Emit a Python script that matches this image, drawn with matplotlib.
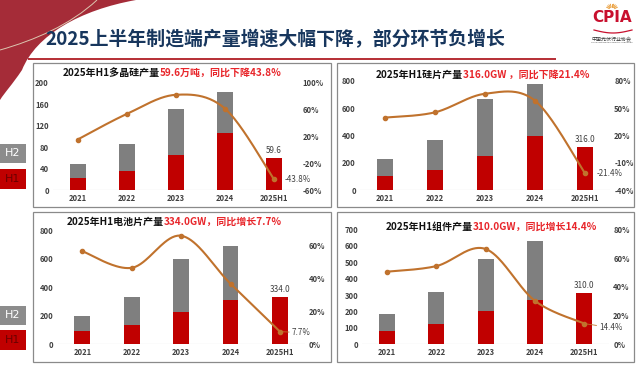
import numpy as np
import matplotlib
matplotlib.use("Agg")
import matplotlib.pyplot as plt
from matplotlib.path import Path
from matplotlib.patches import PathPatch, Rectangle

plt.rcParams['font.family'] = ['Noto Sans CJK SC', 'DejaVu Sans']

# ---------------- data ----------------
categories = ["2021", "2022", "2023", "2024", "2025H1"]

poly_h1 = [23.5, 36, 65.5, 106, 59.6]
poly_h2 = [26, 49.5, 86.5, 76, 0]
poly_yoy = [15.5, 53.5, 82, 61.5, -43.8]

wafer_h1 = [102, 151, 251, 400, 316.0]
wafer_h2 = [125, 217, 415, 376, 0]
wafer_yoy = [39.8, 45.6, 66, 58.4, -21.4]

cell_h1 = [91, 135, 226, 310, 334.0]
cell_h2 = [107, 196, 371, 380, 0]
cell_yoy = [56.6, 46.5, 66, 36.8, 7.7]

module_h1 = [79, 124, 203, 270, 310.0]
module_h2 = [106, 192, 316, 359, 0]
module_yoy = [50.5, 54.4, 66.3, 30.2, 14.4]

main_title = "2025上半年制造端产量增速大幅下降，部分环节负增长"
titles_black = ["2025年H1多晶硅产量", "2025年H1硅片产量", "2025年H1电池片产量", "2025年H1组件产量"]
titles_red = ["59.6万吨，同比下降43.8%", "316.0GW ，同比下降21.4%", "334.0GW，同比增长7.7%", "310.0GW，同比增长14.4%"]

# ---------------- style ----------------
W, H = 638, 377
RED = '#c00000'
GRAY = '#7f7f7f'
LINE = '#c0722d'
TXT = '#404040'

fig = plt.figure(figsize=(W / 100, H / 100), dpi=100)
fig.patch.set_facecolor('white')

bg = fig.add_axes([0, 0, 1, 1], zorder=0)
bg.set_xlim(0, W)
bg.set_ylim(H, 0)
bg.axis('off')


def rect(x0, y0, x1, y1):
    return [x0 / W, 1 - y1 / H, (x1 - x0) / W, (y1 - y0) / H]


# decorative red shape
verts = [(0, 0), (136, 0), (80, 10), (36, 35), (22, 70), (12, 85), (5, 92), (0, 100), (0, 0)]
codes = [Path.MOVETO, Path.LINETO, Path.CURVE4, Path.CURVE4, Path.CURVE4,
         Path.CURVE4, Path.CURVE4, Path.CURVE4, Path.CLOSEPOLY]
bg.add_patch(PathPatch(Path(verts, codes), facecolor='#a52c38', edgecolor='none'))
cv = [(97, 0), (70, 25), (35, 40), (0, 50)]
bg.add_patch(PathPatch(Path(cv, [Path.MOVETO, Path.CURVE4, Path.CURVE4, Path.CURVE4]),
                       facecolor='none', edgecolor='#dcc7b0', lw=0.7))

# main title + red rule
bg.text(45, 40, main_title, fontsize=13.6, fontweight='bold', color='#17365d',
        ha='left', va='center')
bg.plot([28, 556], [58.5, 58.5], color='#b01c24', lw=1.3, solid_capstyle='butt')

# CPIA logo
bg.text(612, 18, "CPIA", fontsize=11, fontweight='bold', color='#c8102e',
        ha='center', va='center', family='DejaVu Sans')
th = np.linspace(np.pi * 0.15, np.pi * 0.85, 9)
for t in th:
    bg.plot([612 + 3 * np.cos(t), 612 + 6 * np.cos(t)], [10 - 3 * np.sin(t), 10 - 6 * np.sin(t)],
            color='#e8962a', lw=0.6)
bg.plot(np.linspace(594, 632, 20), 30 + 3 * np.sin(np.linspace(0, np.pi, 20)), color='#c8102e', lw=0.9)
bg.text(612, 38.5, "中国光伏行业协会", fontsize=3.6, color='#333333', ha='center', va='center')
bg.text(612, 42.5, "China Photovoltaic Industry Association", fontsize=1.6, color='#555555',
        ha='center', va='center')

# H1/H2 legend boxes
for (y0, y1, lab, fc, tc) in [(144, 163, 'H2', '#8c8c8c', 'white'), (169, 189, 'H1', RED, '#6a0000'),
                               (306, 325, 'H2', '#8c8c8c', 'white'), (330, 350, 'H1', RED, '#6a0000')]:
    bg.add_patch(Rectangle((0, y0), 26, y1 - y0, facecolor=fc, edgecolor='none'))
    bg.text(13, (y0 + y1) / 2, lab, fontsize=8, color=tc, ha='center', va='center', family='DejaVu Sans')

# panel boxes
for (x0, y0, x1, y1) in [(33, 63, 331, 207), (337, 63, 634, 207), (33, 212, 331, 362), (337, 212, 634, 362)]:
    bg.add_patch(Rectangle((x0, y0), x1 - x0, y1 - y0, facecolor='none', edgecolor='#8a8a8a', lw=0.9))


def smooth(xs, ys, n=40):
    pts = np.column_stack([xs, ys]).astype(float)
    out = []
    m = len(pts)
    for i in range(m - 1):
        p0 = pts[i - 1] if i > 0 else pts[i]
        p1 = pts[i]
        p2 = pts[i + 1]
        p3 = pts[i + 2] if i + 2 < m else pts[i + 1]
        c1 = p1 + (p2 - p0) / 6
        c2 = p2 - (p3 - p1) / 6
        t = np.linspace(0, 1, n)[:, None]
        seg = (1 - t) ** 3 * p1 + 3 * (1 - t) ** 2 * t * c1 + 3 * (1 - t) * t ** 2 * c2 + t ** 3 * p2
        out.append(seg if i == 0 else seg[1:])
    out = np.vstack(out)
    return out[:, 0], out[:, 1]


panels = [
    dict(h1=poly_h1, h2=poly_h2, yoy=poly_yoy, box=(53.1, 82.7, 298.6, 190.3),
         ylim=(0, 200), yt=[0, 40, 80, 120, 160, 200], rlim=(-60, 100), rt=[-60, -20, 20, 60, 100],
         tx=160, ty=72.7, lab_off=(11, 0), leader=False),
    dict(h1=wafer_h1, h2=wafer_h2, yoy=wafer_yoy, box=(360, 81, 610, 190.3),
         ylim=(0, 800), yt=[0, 200, 400, 600, 800], rlim=(-40, 80), rt=[-40, -10, 20, 50, 80],
         tx=463, ty=75, lab_off=(12, 0), leader=False),
    dict(h1=cell_h1, h2=cell_h2, yoy=cell_yoy, box=(57.6, 230, 304.7, 344.3),
         ylim=(0, 800), yt=[0, 200, 400, 600, 800], rlim=(0, 69.5), rt=[0, 20, 40, 60],
         tx=164, ty=221.7, lab_off=(12, -1), leader=True),
    dict(h1=module_h1, h2=module_h2, yoy=module_yoy, box=(362.3, 229.3, 609, 344.3),
         ylim=(0, 700), yt=[0, 100, 200, 300, 400, 500, 600, 700], rlim=(0, 80), rt=[0, 20, 40, 60, 80],
         tx=473, ty=227, lab_off=(15, -4), leader=True),
]

x = np.arange(len(categories))
for k, p in enumerate(panels):
    ax = fig.add_axes(rect(*p['box']), zorder=2)
    ax.patch.set_alpha(0)
    ax.bar(x, p['h1'], width=0.32, color=RED, zorder=2)
    ax.bar(x, p['h2'], width=0.32, bottom=p['h1'], color=GRAY, zorder=2)
    ax.axhline(0, color='#bfbfbf', lw=0.8, zorder=1)
    ax.set_xlim(-0.5, len(categories) - 0.5)
    ax.set_ylim(*p['ylim'])
    ax.set_yticks(p['yt'])
    ax.set_xticks(x)
    ax.set_xticklabels(categories)
    for s in ax.spines.values():
        s.set_visible(False)
    ax.tick_params(length=0, pad=3, labelsize=5.5, labelcolor=TXT)
    for lbl in ax.get_xticklabels() + ax.get_yticklabels():
        lbl.set_fontweight('bold')
    total_last = p['h1'][-1] + p['h2'][-1]
    ax.annotate(f"{total_last:.1f}", xy=(x[-1], total_last), xytext=(0, 3), textcoords='offset pixels',
                ha='center', va='bottom', fontsize=5.8, color=TXT)

    ax2 = ax.twinx()
    ax2.patch.set_alpha(0)
    sx, sy = smooth(x, p['yoy'])
    ax2.plot(sx, sy, color=LINE, lw=1.5, zorder=3)
    ax2.plot(x, p['yoy'], 'o', color=LINE, ms=3, zorder=4)
    ax2.set_ylim(*p['rlim'])
    ax2.set_yticks(p['rt'])
    ax2.set_yticklabels([f"{v}%" for v in p['rt']])
    for s in ax2.spines.values():
        s.set_visible(False)
    ax2.tick_params(length=0, pad=3, labelsize=5.5, labelcolor=TXT)
    for lbl in ax2.get_yticklabels():
        lbl.set_fontweight('bold')
    ap = dict(arrowstyle='-', color=LINE, lw=0.6, shrinkA=0, shrinkB=2) if p['leader'] else None
    ax2.annotate(f"{p['yoy'][-1]}%", xy=(x[-1], p['yoy'][-1]), xytext=p['lab_off'],
                 textcoords='offset pixels', ha='left', va='center', fontsize=5.8, color=TXT,
                 arrowprops=ap)

    bg.text(p['tx'], p['ty'], titles_black[k], fontsize=7.2, fontweight='bold', color='#111111',
            ha='right', va='center')
    bg.text(p['tx'], p['ty'], titles_red[k], fontsize=7.2, fontweight='bold', color='#e8262b',
            ha='left', va='center')

fig.savefig("out.png", dpi=100)
